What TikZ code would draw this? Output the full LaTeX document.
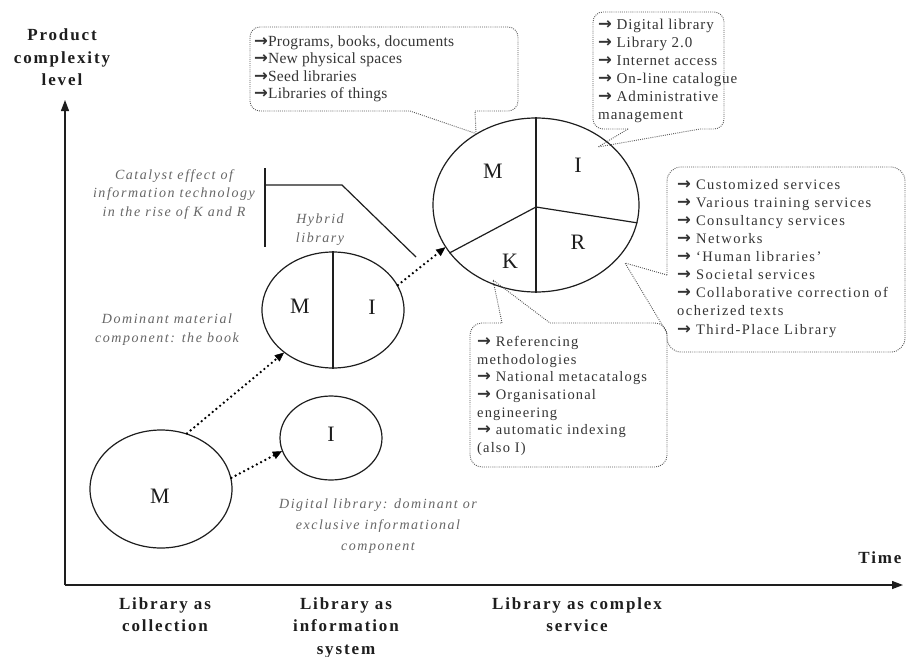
\documentclass[tikz,border=0pt]{standalone}
\usepackage{fontspec}
\setmainfont{Liberation Serif}
\newfontfamily\arrowfont{DejaVu Sans}
\usetikzlibrary{arrows.meta,shapes.geometric}

\definecolor{ink}{HTML}{1E1E1E}
\definecolor{txt}{HTML}{343434}
\definecolor{notegray}{HTML}{666666}
\definecolor{dots}{HTML}{555555}

% heavy bullet arrow used in the callout lists
\newcommand\ra{{\arrowfont\bfseries\fontsize{16.5}{16.5}\selectfont →}}
\newcommand\calloutfont{\fontsize{14.5}{18.1}\selectfont\addfontfeature{LetterSpace=10}}
\newcommand\notefont{\fontsize{14}{18.5}\selectfont\itshape\addfontfeature{LetterSpace=11}}
\newcommand\labelfont{\fontsize{17}{22.5}\selectfont\bfseries\addfontfeature{LetterSpace=11}}

\tikzset{
  callout/.style={draw=dots, line width=0.9pt, dash pattern=on 0.9pt off 1.2pt},
  boxtext/.style={anchor=north west, inner sep=0pt, align=left, text=txt},
  note/.style={inner sep=0pt, align=center, text=notegray, font=\notefont, anchor=north},
  axislabel/.style={inner sep=0pt, align=center, text=ink, font=\labelfont, anchor=north},
  ring/.style={draw=ink, line width=1.2pt, ellipse, inner sep=0pt},
  letter/.style={font=\fontsize{22}{22}\selectfont, text=ink, inner sep=0pt},
  flow/.style={draw=black, line width=2.6pt, dash pattern=on 0pt off 4.8pt, line cap=round,
    -{Triangle[length=9pt,width=8pt,line width=0.4pt]}},
  axis/.style={draw=ink, line width=1.3pt, -{Triangle[length=11pt,width=8pt]}},
}

\begin{document}
\begin{tikzpicture}[x=1pt,y=-1pt]
\useasboundingbox (0,0) rectangle (907,656);
\fill[white] (0,0) rectangle (907,656);

% axes
\coordinate (origin) at (65,585);
\coordinate (ytip) at (65,100);
\coordinate (xtip) at (903,585);
\draw[axis] (origin) -- (ytip);
\draw[axis] (origin) -- (xtip);

\node[axislabel] (ylab) at (62,29) {Product\\complexity\\level};
\node[axislabel, anchor=center] (tlab) at (880,558) {Time};
\node[axislabel] (stage1) at (165,597) {Library as\\collection};
\node[axislabel] (stage2) at (346,597) {Library as\\information\\system};
\node[axislabel] (stage3) at (577,597) {Library as complex\\service};

% the three library forms
\node[ring, minimum width=142pt, minimum height=118pt] (coll) at (161,489) {};
\node[letter] (collM) at (160,496) {M};

\node[ring, minimum width=102pt, minimum height=84pt] (digi) at (331,438) {};
\node[letter] (digiI) at (331,434) {I};

\node[ring, minimum width=142pt, minimum height=116pt] (hyb) at (333,310) {};
\draw[ink, line width=1.2pt] (hyb.north) -- (hyb.south);
\node[letter] (hybM) at (300,306) {M};
\node[letter] (hybI) at (372,307) {I};

\node[ring, minimum width=206pt, minimum height=174pt] (big) at (536,205) {};
\coordinate (hub) at (536,207);
\draw[ink, line width=1.2pt] (big.north) -- (big.south);
\draw[ink, line width=1.2pt] (big.209) -- (hub) -- (big.-10);
\node[letter] (bigM) at (493,171) {M};
\node[letter] (bigI) at (578,165) {I};
\node[letter] (bigK) at (510,261) {K};
\node[letter] (bigR) at (578,242) {R};

% evolution arrows
\draw[flow] (coll.65) -- (hyb.221);
\draw[flow] (coll.9) -- (digi.195);
\draw[flow] (hyb.21) -- (big.205);

% catalyst bracket
\coordinate (brtop) at (265,168);
\coordinate (brbot) at (265,247);
\coordinate (brmid) at (265,185);
\coordinate (brknee) at (342,185);
\coordinate (brend) at (416,257);
\draw[ink, line width=1.2pt] (brtop) -- (brbot);
\draw[ink, line width=1.2pt] (brmid) -- (brknee) -- (brend);

% italic notes
\node[note] (catalyst) at (174,169) {Catalyst effect of\\information technology\\in the rise of K and R};
\node[note] (hybnote) at (320,214) {Hybrid\\library};
\node[note] (booknote) at (167,314) {Dominant material\\component: the book};
\node[note, font={\fontsize{14}{21}\selectfont\itshape\addfontfeature{LetterSpace=11}}] (diginote) at (378,499)
  {Digital library: dominant or\\exclusive informational\\component};

% callout tips
\coordinate (t1) at (big.130);
\coordinate (t2) at (598,147);
\coordinate (t3) at (625,263);
\coordinate (t4) at (493,280);

% callout M
\draw[callout, rounded corners=10pt] (475,111) -- (518,111) -- (518,27) -- (250,27) -- (250,111) -- (410,111);
\draw[callout] (410,111) -- (t1) -- (475,111);
\node[boxtext, font={\fontsize{15.5}{17.3}\selectfont\addfontfeature{LetterSpace=2}}] (textM) at (254,35.5)
  {\ra Programs, books, documents\\\ra New physical spaces\\\ra Seed libraries\\\ra Libraries of things};

% callout I
\draw[callout, rounded corners=10pt] (628,129) -- (593,129) -- (593,12) -- (724,12) -- (724,129) -- (700,129);
\draw[callout] (628,129) -- (t2) -- (700,129);
\node[boxtext, font={\fontsize{15}{18}\selectfont\addfontfeature{LetterSpace=6}}] (textI) at (598,19)
  {\ra{} Digital library\\\ra{} Library 2.0\\\ra{} Internet access\\\ra{} On-line catalogue\\\ra{} Administrative\\management};

% callout R
\draw[callout, rounded corners=14pt] (667,275) -- (667,167) -- (905,167) -- (905,352) -- (667,352) -- (667,333);
\draw[callout] (667,275) -- (t3) -- (667,333);
\node[boxtext, font=\calloutfont] (textR) at (677,179)
  {\ra{} Customized services\\\ra{} Various training services\\\ra{} Consultancy services\\\ra{} Networks\\\ra{} ‘Human libraries’\\\ra{} Societal services\\\ra{} Collaborative correction of\\ocherized texts\\\ra{} Third-Place Library};

% callout K
\draw[callout, rounded corners=12pt] (550,323) -- (667,323) -- (667,467) -- (470,467) -- (470,323) -- (502,323);
\draw[callout] (502,323) -- (t4) -- (550,323);
\node[boxtext, font={\fontsize{14.5}{17.7}\selectfont\addfontfeature{LetterSpace=8}}] (textK) at (477,336)
  {\ra{} Referencing\\methodologies\\\ra{} National metacatalogs\\\ra{} Organisational\\engineering\\\ra{} automatic indexing\\(also I)};
\end{tikzpicture}
\end{document}
